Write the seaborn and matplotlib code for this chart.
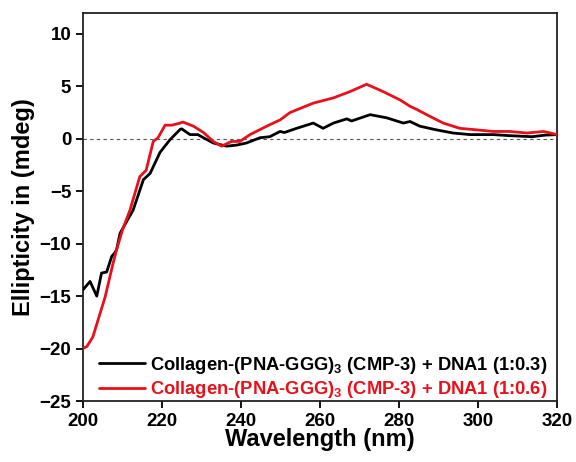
import numpy as np
import pandas as pd
import matplotlib
matplotlib.use("Agg")
import matplotlib.pyplot as plt
import seaborn as sns

# Wavelength (nm) and ellipticity (mdeg)
wl_black = [200, 201.8, 203.5, 204.7, 206, 207.3, 208, 208.5, 209.4, 212.7, 215.3, 217,
            219.5, 222, 224.6, 225, 227.1, 229.1, 230.5, 233, 236.4, 238.9, 241.4, 244.8,
            247.3, 249.9, 251, 254.1, 258.3, 260.8, 263.4, 266.8, 268, 272.7, 276.9,
            281.1, 282.8, 285.3, 289.5, 293.7, 298, 303.9, 308, 313.7, 317, 320]
ell_black = [-14.4, -13.6, -15.0, -12.8, -12.7, -11.2, -10.9, -10.6, -9.0, -6.8, -3.9, -3.3,
             -1.3, -0.1, 0.9, 0.95, 0.4, 0.4, 0.1, -0.4, -0.7, -0.6, -0.4, 0.1,
             0.2, 0.7, 0.6, 1.0, 1.5, 1.0, 1.5, 1.9, 1.7, 2.3, 2.0,
             1.5, 1.65, 1.2, 0.85, 0.55, 0.4, 0.4, 0.3, 0.2, 0.35, 0.4]

wl_red = [200, 201, 202.5, 203.8, 205.6, 207.6, 208.5, 210, 211.9, 214.4, 216, 217.8, 219,
          220.8, 222.5, 224.6, 225.3, 228, 230.5, 233, 235.1, 237.6, 239.7, 242.3, 246.5,
          249.9, 252.4, 258.3, 263.4, 267.6, 271.8, 276, 280.3, 282.8, 284.5, 287, 291.2,
          295.4, 299.7, 303.9, 308, 312.4, 316.6, 320]
ell_red = [-20.0, -19.8, -18.9, -17.3, -15.1, -11.9, -10.6, -8.7, -6.8, -3.6, -3.0, -0.25, 0.1,
           1.3, 1.3, 1.5, 1.6, 1.2, 0.6, -0.25, -0.7, -0.25, -0.25, 0.4, 1.2,
           1.8, 2.5, 3.4, 3.9, 4.5, 5.2, 4.5, 3.7, 3.1, 2.8, 2.3, 1.5,
           1.0, 0.85, 0.7, 0.7, 0.55, 0.7, 0.4]

labels = [r"Collagen-(PNA-GGG)$\mathregular{_3}$ (CMP-3) + DNA1 (1:0.3)",
          r"Collagen-(PNA-GGG)$\mathregular{_3}$ (CMP-3) + DNA1 (1:0.6)"]
colors = ["#000000", "#e8101a"]
x_ticks = [200, 220, 240, 260, 280, 300, 320]
y_ticks = [-25, -20, -15, -10, -5, 0, 5, 10]

df = pd.concat([
    pd.DataFrame({"wl": wl_black, "ell": ell_black, "sample": labels[0]}),
    pd.DataFrame({"wl": wl_red, "ell": ell_red, "sample": labels[1]}),
])

sns.set_theme(style="ticks")
plt.rcParams["font.family"] = ["Liberation Sans", "DejaVu Sans"]
plt.rcParams["font.weight"] = "bold"
plt.rcParams["mathtext.default"] = "regular"
plt.rcParams["text.color"] = "black"
plt.rcParams["axes.labelcolor"] = "black"
plt.rcParams["xtick.color"] = "black"
plt.rcParams["ytick.color"] = "black"

fig = plt.figure(figsize=(5.76, 4.62), dpi=100)
ax = fig.add_axes([0.144, 0.132, 0.823, 0.840])

ax.axhline(0, color="#555555", lw=0.8, ls=(0, (3, 3)), zorder=1)
sns.lineplot(data=df, x="wl", y="ell", hue="sample", palette=colors,
             linewidth=2.0, ax=ax, sort=False, estimator=None, zorder=3)

ax.set_xlim(200, 320)
ax.set_ylim(-25, 12)
ax.set_xticks(x_ticks)
ax.set_yticks(y_ticks)
ax.tick_params(axis="both", direction="out", length=5, width=1.3, labelsize=13.5,
               top=False, right=False, colors="black")
for lab in ax.get_xticklabels() + ax.get_yticklabels():
    lab.set_fontweight("bold")
for sp in ax.spines.values():
    sp.set_visible(True)
    sp.set_linewidth(1.3)
    sp.set_color("#222222")

ax.set_xlabel("Wavelength (nm)", fontsize=17, fontweight="bold", labelpad=-1)
ax.set_ylabel("Ellipticity in (mdeg)", fontsize=17, fontweight="bold", labelpad=3)

leg = ax.legend(loc="lower right", frameon=False, fontsize=13.2, handlelength=2.5,
                handletextpad=0.3, labelspacing=0.2, borderaxespad=0.1,
                bbox_to_anchor=(1.0, -0.022))
for txt, c in zip(leg.get_texts(), colors):
    txt.set_color(c)
    txt.set_fontweight("bold")

fig.savefig("out.png", dpi=100)
